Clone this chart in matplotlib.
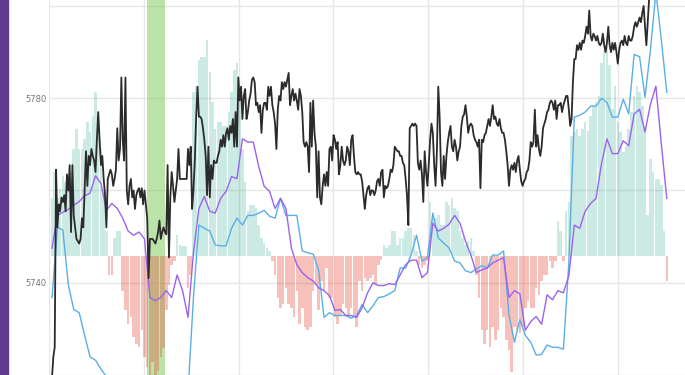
import numpy as np
import matplotlib
matplotlib.use("Agg")
import matplotlib.pyplot as plt

# price (black line), one value per bar of the time axis
price = [
    5719.5, 5724, 5726,
    5764.5, 5752, 5757, 5755.5, 5758.5, 5757.5, 5759, 5755.5, 5763.5, 5760,
    5765.5, 5751, 5765.5, 5754.5, 5752, 5749.5, 5749, 5748.5, 5749.5, 5754, 5752, 5760,
    5768.5, 5761, 5767.5, 5765.5, 5769, 5767.5, 5766.5, 5764, 5771, 5777, 5771,
    5765.5, 5767.5, 5762.5, 5759, 5752, 5762.5, 5763.5, 5764.5, 5763.5, 5761, 5762.5,
    5764.5, 5773.5, 5766.5, 5769, 5784.5, 5771, 5766.5, 5784.5, 5760, 5757,
    5761, 5762.5, 5758.5, 5760, 5756, 5759, 5760, 5760.5, 5758.5, 5760.5,
    5757, 5760, 5757, 5754, 5741, 5749.5, 5749.5,
    5749.5, 5749, 5748.5, 5749.5, 5751, 5753.5, 5749.5, 5751, 5752, 5751,
    5750.5, 5765.5, 5745.5, 5758.5, 5764, 5761, 5757.5, 5760, 5762.5, 5769,
    5762.5, 5762.5, 5762.5, 5762.5, 5762.5, 5762.5, 5769, 5765.5, 5769.5, 5756,
    5760, 5766.5, 5776, 5782.5, 5776, 5776, 5775.5, 5773.5, 5771, 5767.5,
    5759, 5769.5, 5758.5, 5765.5, 5762.5, 5766.5, 5766, 5766, 5767.5, 5768.5,
    5771, 5769.5, 5772, 5769.5, 5772.5, 5773.5, 5771, 5774, 5772.5, 5775.5,
    5769.5, 5777, 5769.5, 5784.5, 5779.5, 5782.5, 5775.5, 5780.5, 5782, 5775.5,
    5777, 5779.5, 5781, 5784, 5784.5, 5783.5,
    5778.5, 5779, 5777, 5778.5, 5772.5, 5777.5, 5779, 5779, 5777.5, 5782.5,
    5780.5, 5782.5, 5778.5, 5777, 5774.5, 5769, 5777.5, 5780.5, 5779.5, 5783.5,
    5782, 5783.5, 5782.5, 5784, 5785.5, 5778.5, 5780.5, 5782, 5779.5, 5781,
    5779.5, 5777.5, 5782, 5780.5, 5777, 5770.5, 5769.5, 5770.5, 5769.5, 5764,
    5779, 5769.5, 5779.5, 5772.5, 5769.5, 5758.5, 5768.5, 5758.5, 5757, 5761,
    5763.5, 5761, 5764, 5761, 5769, 5769.5, 5766.5, 5772, 5771, 5769,
    5770.5, 5763.5, 5765.5, 5769.5, 5766.5, 5765.5, 5766.5, 5769.5, 5768.5, 5765.5,
    5771, 5772, 5767.5, 5764, 5763.5, 5764, 5763.5,
    5763.5, 5762, 5759, 5756, 5759, 5760.5, 5761, 5759, 5760, 5760,
    5759, 5760, 5762, 5762.5, 5761, 5764, 5764.5, 5758.5, 5761, 5760.5,
    5761, 5762.5, 5764.5, 5764, 5765.5, 5769.5, 5769, 5768.5, 5768.5, 5767.5,
    5767.5, 5766, 5765.5, 5762.5, 5759, 5752.5, 5773.5, 5774, 5774.5, 5774,
    5774.5, 5774, 5766, 5764.5, 5766.5, 5763.5, 5757.5, 5768.5, 5764, 5761,
    5765.5, 5771, 5774.5, 5772.5, 5765.5, 5761, 5768.5, 5782.5, 5776, 5764,
    5761, 5767.5, 5762.5, 5767.5, 5770.5, 5772.5, 5774, 5769.5, 5768.5, 5771,
    5769.5, 5766.5, 5768.5, 5769.5, 5774, 5776,
    5776.5, 5778.5, 5776, 5772.5, 5774, 5774.5, 5774, 5772, 5771, 5770.5,
    5769.5, 5771, 5760.5, 5771, 5770.5, 5772, 5772.5, 5774, 5775.5, 5774,
    5776, 5778.5, 5775.5, 5776, 5774.5, 5774, 5775.5, 5773.5, 5772.5, 5772.5,
    5771, 5768.5, 5765.5, 5761, 5764.5, 5765.5, 5764.5, 5766, 5764, 5766.5,
    5767.5, 5764.5, 5762, 5761, 5762, 5762.5, 5764, 5764.5, 5766.5, 5770.5,
    5769.5, 5770.5, 5777.5, 5769.5, 5772, 5769, 5767.5, 5769.5, 5773.5, 5774.5,
    5775.5, 5777, 5777.5, 5779, 5779.5, 5779, 5777.5, 5779.5, 5775.5, 5778.5,
    5778.5, 5779, 5777, 5778.5, 5779.5, 5780.5, 5780.5, 5777.5, 5774,
    5775.5, 5783.5, 5788.5, 5788.5, 5791.5, 5790.5, 5792, 5790.5, 5792.5, 5792,
    5793.5, 5795.5, 5794, 5799, 5793.5, 5792.5, 5794, 5793.5, 5792.5, 5793.5,
    5792, 5791.5, 5792, 5794, 5791.5, 5790, 5792, 5795.5, 5791.5,
    5790, 5792, 5790.5, 5792, 5790, 5787.5, 5790.5, 5792, 5792.5, 5791.5,
    5793.5, 5792, 5791.5, 5793.5, 5792.5, 5792.5, 5793.5,
    5795.5, 5796.5, 5795.5, 5796.5, 5797.5, 5796.5, 5798.5, 5800, 5795.5, 5791.5,
    5796.5, 5801.5,
    5803, 5804, 5805, 5805.5, 5806, 5806, 5806.5, 5806, 5806.5, 5807, 5807, 5807.5, 5807,
]

# fast and slow averages, one value every 4 bars
fast_avg = [
    5736.8, 5752.0, 5751.4, 5739.6, 5734.2, 5733.5, 5728.6, 5723.9, 5723.2, 5721.3,
    5719.6, 5718.5, 5717.4, 5716.3, 5715.3, 5714.6, 5714.2, 5713.8, 5713.2, 5713.2,
    5713.2, 5713.2, 5713.2, 5713.2, 5714.2, 5716.3, 5736.8, 5752.5, 5751.8, 5751.2,
    5748.2, 5748.0, 5748.0, 5751.8, 5754.0, 5752.5, 5754.6, 5754.6, 5755.1, 5755.7,
    5754.4, 5754.0, 5758.3, 5754.6, 5754.6, 5754.6, 5746.9, 5746.5, 5746.2, 5742.8,
    5732.5, 5733.5, 5732.9, 5732.9, 5732.9, 5732.3, 5732.9, 5735.3, 5733.5, 5735.0,
    5736.8, 5737.0, 5737.6, 5738.3, 5743.2, 5743.2, 5746.0, 5750.3, 5744.7, 5745.4,
    5755.1, 5749.7, 5748.6, 5747.5, 5744.7, 5744.3, 5742.6, 5742.2, 5743.0, 5743.7,
    5743.2, 5746.0, 5746.0, 5746.9, 5733.0, 5727.1, 5732.0, 5728.6, 5727.1, 5724.3,
    5724.5, 5726.5, 5726.0, 5726.0, 5725.6, 5744.3, 5775.9, 5776.3, 5777.0, 5778.3,
    5778.3, 5780.0, 5779.1, 5775.9, 5775.9, 5779.8, 5776.6, 5789.5, 5789.0, 5780.2,
    5790.5, 5803.0, 5792.7, 5781.3,
]

slow_avg = [
    5747.5, 5754.6, 5755.3, 5755.9, 5756.8, 5757.6, 5758.9, 5759.4, 5763.2, 5761.5,
    5755.7, 5757.2, 5756.1, 5754.0, 5751.2, 5750.3, 5751.0, 5749.5, 5736.8, 5736.1,
    5736.8, 5738.3, 5736.8, 5741.7, 5738.3, 5732.5, 5746.5, 5756.1, 5758.7, 5755.5,
    5755.1, 5758.3, 5759.8, 5763.0, 5762.6, 5771.2, 5770.5, 5770.5, 5765.2, 5760.9,
    5759.8, 5756.1, 5758.3, 5756.1, 5747.5, 5743.9, 5742.2, 5741.1, 5740.4, 5738.9,
    5738.3, 5737.2, 5734.0, 5734.2, 5732.9, 5732.9, 5732.5, 5734.6, 5737.8, 5740.0,
    5739.4, 5739.4, 5739.8, 5739.6, 5741.7, 5743.9, 5744.9, 5744.9, 5741.1, 5742.2,
    5752.9, 5751.2, 5751.8, 5752.7, 5754.6, 5752.9, 5749.0, 5746.0, 5742.2, 5742.8,
    5743.2, 5744.3, 5744.9, 5745.4, 5736.8, 5738.3, 5737.6, 5729.7, 5731.6, 5732.7,
    5731.0, 5737.4, 5736.3, 5738.3, 5737.8, 5741.5, 5752.5, 5751.8, 5755.5, 5757.2,
    5758.3, 5765.8, 5771.2, 5768.0, 5768.0, 5770.8, 5769.7, 5776.6, 5777.6, 5772.7,
    5778.7, 5782.6, 5770.1, 5758.3,
]

# histogram, one bar every 2 bars of the time axis, measured from HIST_BASE
histogram = [
    12.5, 18.3, 12.5, 14.6, 17.4, 16.1, 16.8, 18.3, 23.2, 27.5,
    23.2, 23.2, 25.4, 29, 26.9, 30.3, 35.5, 30.3, 23.2, 14,
    5.4, -4.1, -4.1, 3.9, 5.4, 5.4, -7.5, -11.8, -14.8, -13.3,
    -17.6, -19.1, -19.8, -16.1, -21.9, -24, -26, -23, -27, -25,
    -22, -20, -11.8, -6.2, -1.9, -1.1, 4.5, 2.4, 2.2, 2.2,
    -6.9, -4.1, 35.5, 36.8, 42.6, 43.2, 43.2, 46.9, 39.8, 33.3,
    27.5, 29, 29, 28.2, 28.2, 31.2, 35.5, 40.4, 41.9, 33.3,
    23.2, 16.1, 9.7, 11, 11, 10.3, 6.7, 3.9, 2.8, 1.7,
    1.1, -1.1, -4.1, -9, -11.2, -10.5, -6.9, -10.5, -11.2, -13.3,
    -7.5, -14.8, -11.2, -15.5, -16.1, -15.5, -7.5, -6.2, -11.8, -5.4,
    -7.5, -2.6, -9, -9, -13.3, -14.8, -12.7, -10.5, -11.2, -13.3,
    -11.2, -13.3, -15.5, -5.4, -7.5, -4.7, -5.4, -4.7, -4.1, -6.2,
    -1.9, -0.9, 2.4, 1.7, 2.4, 5.4, 5.4, 2.4, 3.9, 3.9,
    5.4, 6, 6, 4.5, 1.1, -1.9, -2.6, -1.9, -1.1, 11.8,
    8.2, 8.2, 8.8, 6.7, 6.7, 11.8, 11, 12.5, 10.3, 9.7,
    5.4, 3.9, 2.4, 3.2, 3.9, 1.1, -4.1, -9, -16.1, -19.1,
    -16.1, -19.8, -15.5, -18.3, -16.1, -11.2, -13.3, -18.3, -20.4, -25.2,
    -15.5, -16.1, -16.8, -15.5, -11.2, -9.7, -11.2, -11.2, -6.9, -8.4,
    -5.4, -4.1, -4.1, -1.1, -2.6, -1.1, 7.5, 5.4, -1.1, 9.7,
    11.8, 26, 26.9, 27.5, 26, 27.5, 29, 27.1, 30.3, 32.5,
    33.3, 34.6, 41.9, 44.7, 45.4, 41.5, 31.8, 36.8, 29, 26.9,
    22.6, 23.9, 27.5, 31.2, 34.6, 36.8, 35.5, 32.5, 28.2, 8.8,
    21, 18.3, 16.8, 16.8, 15.3, 5.4, -5.4,
]
HIST_BASE = 5745.8

# highlighted session (in bars)
highlight = (69.6, 83.1)

y_ticks = [5720, 5740, 5760, 5780, 5800]
y_labels = ["", "5740", "", "5780", ""]

fig = plt.figure(figsize=(6.85, 3.75), dpi=100)
ax = fig.add_axes([49 / 685, 0, 1 - 49 / 685, 1])

t = np.arange(len(price))
t_avg = np.arange(len(fast_avg)) * 4
t_hist = np.arange(len(histogram)) * 2
h = np.array(histogram)

ax.axvspan(*highlight, color="#8fd16f", alpha=0.6, lw=0, zorder=1)

ax.bar(t_hist[h >= 0], h[h >= 0], width=1.85, bottom=HIST_BASE,
       color="#16a085", alpha=0.22, lw=0, zorder=2)
ax.bar(t_hist[h < 0], h[h < 0], width=1.85, bottom=HIST_BASE,
       color="#e74c3c", alpha=0.35, lw=0, zorder=2)

ax.plot(t_avg, fast_avg, color="#5aaee8", lw=1.0, zorder=3)
ax.plot(t_avg, slow_avg, color="#9a63ee", lw=1.0, zorder=4)
ax.plot(t, price, color="#2b2b2b", lw=1.3, zorder=5)

ax.set_xlim(-2.2, 465.4)
ax.set_ylim(5720.65, 5801.3)
ax.set_xticks(np.arange(-2.2, 465, 69.7))
ax.set_xticklabels([])
ax.set_yticks(y_ticks)
ax.set_yticklabels(y_labels, color="#777777", fontsize=6)
ax.tick_params(length=0, pad=2)
ax.grid(True, color="#e6e6e6", lw=1)
ax.set_axisbelow(True)
for s in ax.spines.values():
    s.set_visible(False)

# purple strip at the left edge
fig.patches.append(plt.Rectangle((0, 0), 8.3 / 685, 1, transform=fig.transFigure,
                                 color="#5f3a8f", zorder=0))

fig.savefig("out.png", dpi=100)
